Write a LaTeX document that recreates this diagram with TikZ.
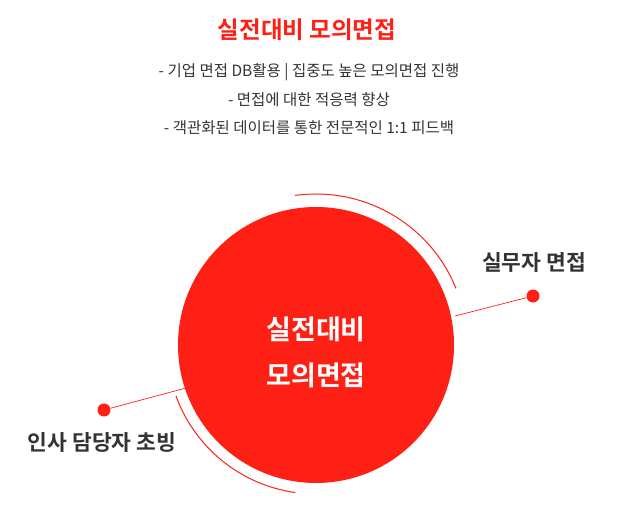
\documentclass[tikz,border=0pt]{standalone}
\usepackage{fontspec}
\setmainfont{Noto Sans CJK KR}
\newfontfamily\krb{Noto Sans CJK KR Bold}
\definecolor{mred}{HTML}{FF2015}
\definecolor{dtext}{HTML}{333333}
\begin{document}
\begin{tikzpicture}[x=1pt,y=-1pt,
  bul/.style={font=\fontsize{15.5}{18}\selectfont,text=dtext},
  lab/.style={font=\krb\fontsize{21.5}{24}\selectfont,text=dtext},
  dot/.style={circle,fill=mred,inner sep=0pt,minimum size=13pt},
  conn/.style={draw=mred,line width=0.7pt}]
\useasboundingbox (0,0) rectangle (638,511);
\node[font=\krb\fontsize{23.5}{26}\selectfont,text=mred] (title) at (307,30) {실전대비 모의면접};
\node[bul] (b1) at (309,72) {- 기업 면접 DB활용 | 집중도 높은 모의면접 진행};
\node[bul] (b2) at (309,100) {- 면접에 대한 적응력 향상};
\node[bul] (b3) at (309,128) {- 객관화된 데이터를 통한 전문적인 1:1 피드백};
\node[dot] (rd) at (533,296) {};
\node[dot] (ld) at (104,410) {};
\coordinate (rc) at (455,316);
\coordinate (lc) at (186,388);
\draw[conn] (rd) -- (rc);
\draw[conn] (ld) -- (lc);
\node[circle,fill=mred,minimum size=276pt,inner sep=0pt] (c) at (316,345) {};
\draw[mred,line width=1pt] (316,345) ++(-98:151) arc[start angle=-98,end angle=-22,radius=151];
\draw[mred,line width=1pt] (316,345) ++(-200:149) arc[start angle=-200,end angle=-262,radius=149];
\node[font=\krb\fontsize{27}{46}\selectfont,text=white,align=center] (ct) at (316,352) {실전대비\\모의면접};
\node[lab] (rl) at (534,262) {실무자 면접};
\node[lab] (ll) at (102,442) {인사 담당자 초빙};
\end{tikzpicture}
\end{document}
